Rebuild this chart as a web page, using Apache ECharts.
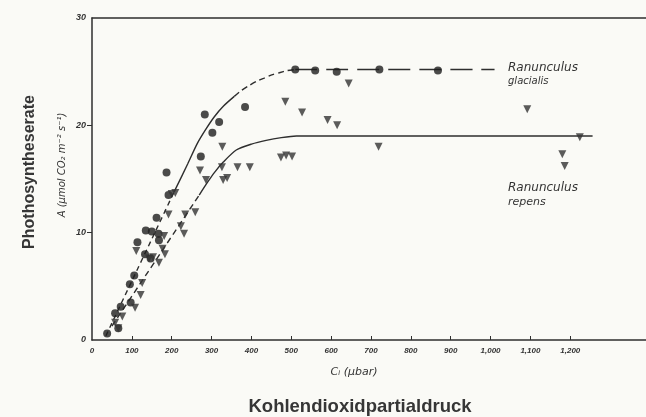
<!DOCTYPE html>
<html>
<head>
<meta charset="utf-8">
<script src="https://cdn.jsdelivr.net/npm/echarts@6/dist/echarts.min.js"></script>
<style>
html,body{margin:0;padding:0;background:#fafaf6;}
#chart{width:646px;height:417px;}
</style>
</head>
<body>
<div id="chart"></div>
<script>
// ---- data ----
var xTickLabels = [0,100,200,300,400,500,600,700,800,900,1000,1100,1200];
var yTickLabels = [0,10,20,30];

// Ranunculus glacialis (circles): Ci (µbar), A (µmol CO2 m-2 s-1)
var glacX = [38,58,66,72,95,97,106,114,133,135,150,147,162,167,168,187,192,273,302,283,319,384,510,560,614,721,868];
var glacY = [0.6,2.5,1.1,3.1,5.2,3.5,6.0,9.1,8.0,10.2,10.1,7.6,11.4,9.9,9.3,15.6,13.5,17.1,19.3,21.0,20.3,21.7,25.2,25.1,25.0,25.2,25.1];

// Ranunculus repens (triangles)
var repX = [58,66,76,108,122,126,111,143,153,168,177,183,181,192,200,209,223,231,234,259,271,286,327,329,339,326,365,396,474,487,502,485,527,591,615,644,719,1092,1180,1186,1224];
var repY = [1.6,1.1,2.2,3.0,4.2,5.3,8.3,7.6,7.7,7.2,8.5,8.0,9.7,11.7,13.6,13.7,10.6,9.9,11.7,11.9,15.8,14.9,18.0,14.9,15.1,16.1,16.1,16.1,17.0,17.2,17.1,22.2,21.2,20.5,20.0,23.9,18.0,21.5,17.3,16.2,18.9];

// fitted curves
var glacCurveX = [35,100,150,206,240,264,285,307,330,357,375,394,413,432,451,470,490,510,1010];
var glacCurveY = [0.4,5.5,9.4,13.8,16.4,18.3,19.6,20.8,21.8,22.7,23.25,23.7,24.1,24.4,24.7,24.9,25.1,25.2,25.2];
var repCurveX = [50,181,269,290,307,330,362,400,437,475,513,621,1256];
var repCurveY = [1.3,8.6,13.5,14.7,15.6,16.6,17.7,18.25,18.6,18.85,19.0,19.0,19.0];

// ---- build ----
function zip(xs, ys){ return xs.map(function(x,i){ return [x, ys[i]]; }); }
function seg(xs, ys, a, b){ return zip(xs.slice(a,b+1), ys.slice(a,b+1)); }

var ink = '#2e2e2e';
var chart = echarts.init(document.getElementById('chart'), null, {renderer:'canvas'});

function curve(data, type){
  return {
    type:'line', data:data, smooth:0.25, symbol:'none', silent:true,
    lineStyle:{color:ink, width:1.4, type:type}, z:1
  };
}

var tickFont = {fontStyle:'italic', fontWeight:'bold', fontSize:8, color:'#333', fontFamily:'Liberation Sans, Arial, sans-serif'};

chart.setOption({
  backgroundColor:'#fafaf6',
  animation:false,
  grid:{left:92, right:0, top:18, bottom:77},
  xAxis:[{
    type:'value', min:0, max:1390, interval:100,
    axisLine:{show:true, lineStyle:{color:ink, width:1.5}},
    axisTick:{show:true, inside:true, length:4, customValues:xTickLabels.slice(1), lineStyle:{color:ink, width:1}},
    axisLabel:Object.assign({customValues:xTickLabels, margin:7}, tickFont),
    splitLine:{show:false}
  },{
    type:'value', min:0, max:1390, position:'top',
    axisLine:{show:true, onZero:false, lineStyle:{color:ink, width:1.5}},
    axisTick:{show:false}, axisLabel:{show:false}, splitLine:{show:false}
  }],
  yAxis:{
    type:'value', min:0, max:30, interval:10,
    axisLine:{show:true, lineStyle:{color:ink, width:1.5}},
    axisTick:{show:true, inside:false, length:5, customValues:[10,20], lineStyle:{color:ink, width:1}},
    axisLabel:Object.assign({customValues:yTickLabels, margin:6}, tickFont, {fontSize:9}),
    splitLine:{show:false}
  },
  series:[
    curve(seg(glacCurveX, glacCurveY, 0, 3), [5,4]),
    curve(seg(glacCurveX, glacCurveY, 3, 9), 'solid'),
    curve(seg(glacCurveX, glacCurveY, 9, 17), [6,4]),
    curve(seg(glacCurveX, glacCurveY, 17, 18), [22,9]),
    curve(seg(repCurveX, repCurveY, 0, 2), [6,4]),
    curve(seg(repCurveX, repCurveY, 2, 12), 'solid'),
    {type:'scatter', name:'Ranunculus glacialis', data:zip(glacX, glacY), symbol:'circle', symbolSize:8,
      itemStyle:{color:'#1e1e1e'}, z:3},
    {type:'scatter', name:'Ranunculus repens', data:zip(repX, repY), symbol:'triangle', symbolRotate:180, symbolSize:8,
      itemStyle:{color:'#333'}, z:3}
  ],
  graphic:[
    {type:'text', left:508, top:62, style:{text:'Ranunculus', font:'italic 12px "DejaVu Sans"', fill:'#333'}},
    {type:'text', left:508, top:76, style:{text:'glacialis', font:'italic 10px "DejaVu Sans"', fill:'#333'}},
    {type:'text', left:508, top:182, style:{text:'Ranunculus', font:'italic 12px "DejaVu Sans"', fill:'#333'}},
    {type:'text', left:508, top:197, style:{text:'repens', font:'italic 11px "DejaVu Sans"', fill:'#333'}},
    {type:'text', x:354, y:372, style:{text:'Cᵢ (µbar)', font:'italic 11px "DejaVu Sans"', fill:'#333', align:'center', verticalAlign:'middle'}},
    {type:'text', x:360, y:407, style:{text:'Kohlendioxidpartialdruck', font:'bold 18.5px "Liberation Sans", Arial, sans-serif', fill:'#363636', align:'center', verticalAlign:'middle'}},
    {type:'text', x:30, y:172, rotation:Math.PI/2, style:{text:'Phothosyntheserate', font:'bold 16px "Liberation Sans", Arial, sans-serif', fill:'#363636', align:'center', verticalAlign:'middle'}},
    {type:'text', x:62, y:165, rotation:Math.PI/2, style:{text:'A (µmol CO₂ m⁻² s⁻¹)', font:'italic 10px "DejaVu Sans"', fill:'#333', align:'center', verticalAlign:'middle'}}
  ]
});
</script>
</body>
</html>
